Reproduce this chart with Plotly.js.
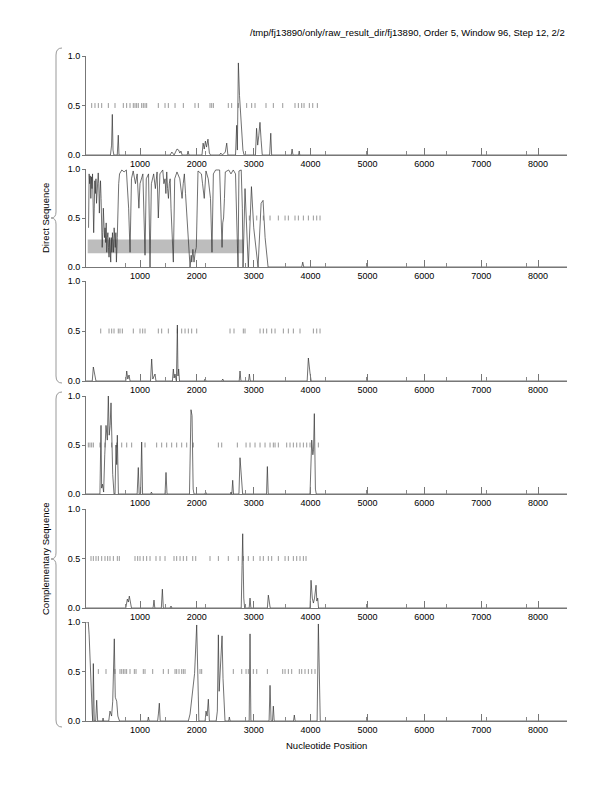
<!DOCTYPE html>
<html><head><meta charset="utf-8">
<script src="https://cdn.plot.ly/plotly-3.0.1.min.js"></script>
<style>html,body{margin:0;padding:0;background:#fff}#chart{width:612px;height:792px}</style>
</head><body><div id="chart"></div>
<script>
// ---------------- DATA ----------------
const titleText = '/tmp/fj13890/only/raw_result_dir/fj13890, Order 5, Window 96, Step 12, 2/2';
const xAxisTitle = 'Nucleotide Position';
const groupLabels = ['Direct Sequence', 'Complementary Sequence'];
const xTickVals = [1000, 2000, 3000, 4000, 5000, 6000, 7000, 8000];
const xTickText = ['1000', '2000', '3000', '4000', '5000', '6000', '7000', '8000'];
const xMinorVals = [736, 1443, 2150, 2857, 3564, 4271, 4978, 5685, 6392, 7099, 7806];
const yTickVals = [0, 0.5, 1];
const yTickText = ['0.0', '0.5', '1.0'];
const stopLevel = 0.5;

// panel 1 (direct, frame 1)
const p1x = [50,480,500,513,525,540,600,618,630,1530,1560,1600,1650,1680,1700,1720,1740,1830,1845,1860,2090,2110,2130,2150,2170,2195,2220,2240,2400,2420,2450,2500,2525,2545,2680,2700,2712,2730,2750,2770,2790,2810,2830,3030,3050,3070,3090,3110,3130,3150,3280,3300,3315,3660,3675,3690,3790,3800,3810,8510];
const p1y = [0,0,0.1,0.41,0.05,0,0,0.2,0,0,0.03,0,0.06,0.05,0.02,0.04,0,0,0.04,0,0,0.12,0.06,0.14,0.08,0.16,0.02,0,0,0.02,0,0.03,0.12,0,0,0.3,0.05,0.93,0.6,0.4,0.2,0.05,0,0,0.27,0.1,0.2,0.33,0.15,0,0,0.22,0,0,0.06,0,0,0.04,0,0];
const p1stops = [150,208,267,326,443,560,706,765,824,882,912,941,970,1029,1058,1088,1117,1322,1440,1498,1616,1762,1967,2026,2231,2261,2290,2553,2612,2729,2876,2964,3023,3216,3345,3510,3726,3785,3844,3885,3978,4038,4119];

// panel 2 (direct, frame 2)
const p2x = [95,105,115,125,135,145,155,165,175,185,195,205,215,225,235,245,255,265,275,285,295,305,315,325,335,345,355,365,375,385,395,405,415,425,435,445,455,465,475,485,495,505,515,525,535,545,555,565,575,585,600,610,625,640,680,720,760,800,825,850,880,920,950,980,1000,1050,1088,1110,1150,1176,1200,1240,1270,1300,1322,1350,1400,1420,1440,1455,1470,1485,1500,1515,1530,1545,1560,1586,1610,1650,1700,1720,1740,1760,1780,1800,1827,1860,1880,1900,1910,1930,1950,1970,1990,2020,2080,2100,2130,2160,2200,2240,2266,2290,2330,2400,2443,2455,2470,2485,2500,2560,2600,2640,2680,2700,2724,2740,2780,2800,2812,2847,2880,2905,2960,3000,3076,3130,3164,3200,3252,3300,3845,3862,3880,8510];
const p2y = [0.4,0.95,0.85,0.93,0.7,0.92,0.8,0.95,0.6,0.35,0.6,0.88,0.75,0.9,0.65,0.8,0.9,0.96,0.85,0.55,0.75,0.88,0.7,0.5,0.2,0.35,0.6,0.45,0.3,0.4,0.25,0.45,0.15,0.3,0.35,0.2,0.1,0.3,0.2,0.05,0.3,0.15,0.35,0.25,0.15,0.4,0.3,0.2,0.35,0.05,0.3,0.6,0.85,0.95,0.99,0.97,0.99,0.6,0.15,0.9,0.98,0.85,0.95,0.6,0.85,0.95,0.12,0.9,0.95,0,0.85,0.95,0.8,0.97,0.5,0.95,0.99,0.85,0.9,0.75,0.97,0.8,0.7,0.85,0.9,0.6,0.4,0.05,0.9,0.97,0.9,0.8,0.7,0.85,0.95,0.75,0.45,0.1,0,0.12,0.05,0.18,0.05,0.15,0.2,0.98,0.95,0.85,0.7,0.98,0.9,0.7,0.15,0.95,0.99,0.99,0.2,0.45,0.5,0.7,0.97,0.99,0.95,0.99,0.95,0.5,0,0.98,0.99,0.6,0,0.8,0.4,0,0.82,0.4,0,0.65,0.68,0.3,0,0,0,0.05,0,0];
const p2stops = [2923,3053,3169,3287,3433,3551,3609,3726,3785,3873,3961,4049,4108,4166];
const geneStart = [80];
const geneEnd = [2820];
const geneLow = [0.14];
const geneHigh = [0.28];

// panel 3 (direct, frame 3)
const p3x = [50,160,179,195,210,225,750,766,785,807,825,1185,1205,1225,1264,1280,1570,1586,1600,1615,1640,1657,1668,1680,1695,2130,2143,2160,2440,2455,2470,2745,2759,2775,2910,2923,2940,3940,3961,3975,3990,4010,8510];
const p3y = [0,0,0.14,0.08,0.06,0,0,0.1,0.02,0.06,0,0,0.22,0.02,0.07,0,0,0.12,0.03,0.07,0,0.56,0.05,0.12,0,0,0.02,0,0,0.02,0,0,0.1,0,0,0.07,0,0,0.23,0.1,0.08,0,0];
const p3stops = [309,455,502,543,618,648,689,882,1000,1047,1088,1322,1381,1498,1657,1733,1792,1850,1909,1997,2583,2653,2817,2847,3111,3169,3228,3316,3375,3521,3609,3697,3814,4049,4108,4166];

// panel 4 (complementary, frame 1)
const p4x = [50,295,314,325,340,360,380,402,425,443,458,475,490,505,520,543,560,578,590,601,620,950,970,985,1010,1029,1045,1190,1200,1215,1440,1457,1475,1870,1897,1915,1935,1950,2140,2155,2170,2590,2600,2615,2630,2645,2740,2759,2775,2790,2805,3225,3240,3255,3990,4020,4040,4052,4066,4085,4100,8510];
const p4y = [0,0,0.7,0.06,0.1,0.02,0.4,0.7,0.55,1.0,0.6,0.7,0.93,0.5,0.2,0,0,0.5,0.3,0.6,0,0,0.27,0,0,0.53,0,0,0.02,0,0,0.22,0,0,0.86,0.8,0.05,0,0,0.02,0,0,0.02,0,0.14,0,0,0.37,0.2,0.1,0,0,0.28,0,0,0.55,0.4,0.45,0.82,0.05,0,0];
const p4stops = [91,120,150,179,296,384,502,590,678,766,853,1088,1293,1381,1469,1557,1645,1733,1821,1938,2378,2437,2712,2865,2935,3023,3111,3199,3287,3345,3375,3433,3580,3638,3697,3756,3814,3873,3932,3990,4137];

// panel 5 (complementary, frame 2)
const p5x = [50,750,777,795,812,830,850,1230,1246,1260,1375,1393,1410,1530,1545,1560,2780,2795,2806,2825,2840,2920,2935,2950,3240,3257,3275,3290,3990,4008,4030,4050,4070,4096,4110,4125,4140,8510];
const p5y = [0,0,0.09,0.06,0.12,0.07,0,0,0.08,0,0,0.19,0,0,0.02,0,0,0.43,0.75,0.1,0,0,0.1,0,0,0.13,0.04,0,0,0.28,0.1,0.05,0.1,0.23,0.07,0.1,0,0];
const p5stops = [138,179,226,267,326,384,431,472,531,601,636,912,959,1000,1058,1117,1176,1281,1352,1440,1598,1645,1704,1762,1821,1927,1980,2231,2378,2553,2729,2817,2905,2993,3111,3169,3257,3316,3433,3551,3609,3697,3756,3814,3873,3920];

// panel 6 (complementary, frame 3)
const p6x = [50,90,105,120,130,145,160,170,179,195,220,238,255,340,350,360,450,472,500,520,548,565,590,610,640,1135,1147,1160,1310,1325,1340,1355,1850,1880,1920,1960,1997,2015,2035,2145,2161,2180,2202,2220,2340,2360,2378,2392,2415,2443,2460,2480,2495,2560,2571,2585,2920,2935,2950,3270,3287,3305,3330,3345,3360,3700,3714,3728,4115,4137,4150,4170,8510];
const p6y = [1.0,1.0,0.87,0.64,0.34,0.2,0.07,0,0.58,0,0,0.21,0,0,0.03,0,0,0.1,0.05,0.2,0.83,0.24,0.2,0.05,0,0,0.04,0,0,0.08,0.18,0,0,0.07,0.25,0.48,0.97,0.4,0,0,0.1,0.05,0.22,0,0,0.1,0.87,0.3,0.5,0.86,0.43,0.1,0,0,0.04,0,0,0.88,0,0,0.36,0,0,0.15,0,0,0.06,0,0,0.98,0.63,0,0];
const p6stops = [267,402,560,648,678,707,736,765,824,900,930,1058,1088,1223,1410,1498,1616,1645,1686,1733,1762,1792,2055,2085,2641,2789,2865,2905,2993,3053,3240,3510,3551,3609,3668,3802,3844,3902,3961,4020,4078];

const panelX = [p1x, p2x, p3x, p4x, p5x, p6x];
const panelY = [p1y, p2y, p3y, p4y, p5y, p6y];
const panelStops = [p1stops, p2stops, p3stops, p4stops, p5stops, p6stops];

// ---------------- STYLE / LAYOUT ----------------
const W = 612, H = 792;
const FONT = 'Liberation Sans, Arial, Helvetica, sans-serif';
const plotLeft = 86, plotRight = 567;
const panelPix = [[56,155],[169,267],[281,381],[396,494],[509,608],[622,721]];
const px = v => v / W;
const py = v => 1 - v / H;

const traces = [];
const layout = {
  width: W, height: H,
  margin: {l: 0, r: 0, t: 0, b: 0},
  paper_bgcolor: '#fff', plot_bgcolor: '#fff',
  showlegend: false,
  font: {family: FONT, size: 9, color: '#000'},
  shapes: [], annotations: []
};

panelPix.forEach((pp, i) => {
  const n = i + 1;
  const xa = 'xaxis' + (n === 1 ? '' : n), ya = 'yaxis' + (n === 1 ? '' : n);
  const xr = 'x' + (n === 1 ? '' : n), yr = 'y' + (n === 1 ? '' : n);
  layout[xa] = {
    domain: [px(plotLeft), px(plotRight)], anchor: yr, range: [50, 8510],
    showline: true, linecolor: '#777', linewidth: 1, mirror: false,
    ticks: 'inside', ticklen: 7, tickcolor: '#777', tickwidth: 1,
    tickmode: 'array', tickvals: xTickVals, ticktext: xTickText,
    minor: {tickmode: 'array', tickvals: xMinorVals, ticks: 'inside', ticklen: 4, tickcolor: '#888', tickwidth: 1},
    showgrid: false, zeroline: false, fixedrange: true,
    tickfont: {family: FONT, size: 9, color: '#000'}
  };
  layout[ya] = {
    domain: [py(pp[1]), py(pp[0])], anchor: xr, range: [0, 1],
    showline: true, linecolor: '#777', linewidth: 1,
    ticks: 'outside', ticklen: 3, tickcolor: '#777', tickwidth: 1,
    tickmode: 'array', tickvals: yTickVals, ticktext: yTickText,
    showgrid: false, zeroline: false, fixedrange: true,
    tickfont: {family: FONT, size: 9, color: '#000'}
  };
  traces.push({
    type: 'scatter', mode: 'markers', xaxis: xr, yaxis: yr,
    x: panelStops[i], y: panelStops[i].map(() => stopLevel),
    marker: {symbol: 'line-ns-open', size: 3.5, color: '#999', line: {color: '#999', width: 1}},
    hoverinfo: 'skip'
  });
  traces.push({
    type: 'scatter', mode: 'lines', xaxis: xr, yaxis: yr,
    x: panelX[i], y: panelY[i],
    line: {color: '#333', width: 0.7},
    hoverinfo: 'skip'
  });
});

// predicted gene region in panel 2
geneStart.forEach((s, k) => {
  layout.shapes.push({
    type: 'rect', xref: 'x2', yref: 'y2', x0: s, x1: geneEnd[k], y0: geneLow[k], y1: geneHigh[k],
    fillcolor: '#bdbdbd', line: {width: 0}, layer: 'below'
  });
});

// braces
function brace(top, bottom, tip) {
  const P = (x, y) => px(x) + ',' + py(y);
  const xv = 56, xe = 62, xt = 51;
  return 'M ' + P(xe, top) + ' Q ' + P(xv, top) + ' ' + P(xv, top + 7) +
    ' L ' + P(xv, tip - 6) + ' Q ' + P(xv, tip) + ' ' + P(xt, tip) +
    ' Q ' + P(xv, tip) + ' ' + P(xv, tip + 6) +
    ' L ' + P(xv, bottom - 7) + ' Q ' + P(xv, bottom) + ' ' + P(xe, bottom);
}
layout.shapes.push({type: 'path', xref: 'paper', yref: 'paper', path: brace(48, 383, 218), line: {color: '#999', width: 1}});
layout.shapes.push({type: 'path', xref: 'paper', yref: 'paper', path: brace(392, 727, 559), line: {color: '#999', width: 1}});

layout.annotations.push(
  {xref: 'paper', yref: 'paper', x: px(567), y: py(32), xanchor: 'right', yanchor: 'middle', showarrow: false,
   text: titleText, font: {family: FONT, size: 9.5, color: '#000'}},
  {xref: 'paper', yref: 'paper', x: px((plotLeft + plotRight) / 2), y: py(745), xanchor: 'center', yanchor: 'middle', showarrow: false,
   text: xAxisTitle, font: {family: FONT, size: 9.5, color: '#000'}},
  {xref: 'paper', yref: 'paper', x: px(45), y: py(218), xanchor: 'center', yanchor: 'middle', showarrow: false, textangle: -90,
   text: groupLabels[0], font: {family: FONT, size: 9.5, color: '#000'}},
  {xref: 'paper', yref: 'paper', x: px(45), y: py(559), xanchor: 'center', yanchor: 'middle', showarrow: false, textangle: -90,
   text: groupLabels[1], font: {family: FONT, size: 9.5, color: '#000'}}
);

Plotly.newPlot('chart', traces, layout, {staticPlot: true, displayModeBar: false});
</script>
</body></html>
